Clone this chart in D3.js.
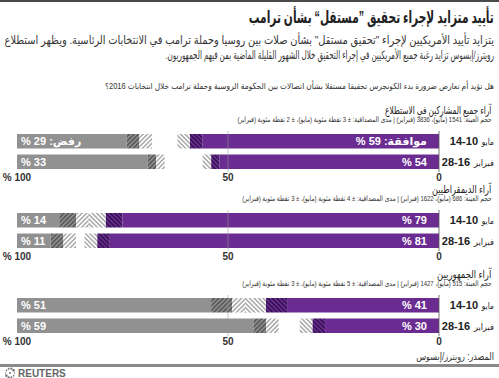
<!DOCTYPE html>
<html lang="ar">
<head>
<meta charset="UTF-8" />
<title>تأييد متزايد لإجراء تحقيق مستقل بشأن ترامب</title>
<script src="https://d3js.org/d3.v7.min.js"></script>
<style>
  body { margin: 0; background: #fff; }
  svg { display: block; font-family: "Liberation Sans", "DejaVu Sans", sans-serif; }
  .rtl { direction: rtl; }
</style>
</head>
<body>
<svg id="chart" width="499" height="378"></svg>
<script>
// ---- datos ----
const groups = ["آراء جميع المشاركين في الاستطلاع", "آراء الديمقراطيين", "آراء الجمهوريين"];
const samples = [
  "حجم العينة: 1541 (مايو)، 3836 (فبراير) | مدى المصداقية: ± 3 نقطة مئوية (مايو)، ± 2 نقطة مئوية (فبراير)",
  "حجم العينة: 686 (مايو)، 1622 (فبراير) | مدى المصداقية: ± 4 نقطة مئوية (مايو)، ± 3 نقطة مئوية (فبراير)",
  "حجم العينة: 515 (مايو)، 1427 (فبراير) | مدى المصداقية: ± 5 نقطة مئوية (مايو)، ± 3 نقطة مئوية (فبراير)"
];
const periodDays = ["14-10", "28-16"];
const periodMonths = ["مايو", "فبراير"];
// [مايو, فبراير] por grupo
const agree = [[59, 54], [79, 81], [41, 30]];
const oppose = [[29, 33], [14, 11], [51, 59]];
const margin = [[3, 2], [4, 3], [5, 3]];
const ticks = [100, 50, 0];

const svg = d3.select("#chart");
const W = 499;

const x = d3.scaleLinear().domain([0, 100]).range([439, 17]);

// texto árabe con borde derecho en xr; si hay "len" se comprime en horizontal hasta ese ancho
function rtext(parent, xr, y, size, str, len) {
  const g = parent.append("g");
  const t = g.append("text").attr("class", "rtl").attr("x", 0).attr("y", 0)
    .attr("font-size", size).attr("fill", "#333").text(str);
  const b = t.node().getBBox();
  const sx = len ? len / b.width : 1;
  g.attr("transform", `translate(${xr - sx * (b.x + b.width)},${y}) scale(${sx},1)`);
  return t;
}

// ---- patrones de rayado ----
const defs = svg.append("defs");
function hatch(id, bg, fg, angle) {
  const p = defs.append("pattern").attr("id", id)
    .attr("patternUnits", "userSpaceOnUse").attr("width", 3.2).attr("height", 3.2)
    .attr("patternTransform", `rotate(${angle})`);
  p.append("rect").attr("width", 3.2).attr("height", 3.2).attr("fill", bg);
  p.append("line").attr("x1", 0.8).attr("x2", 0.8).attr("y1", 0).attr("y2", 3.2)
    .attr("stroke", fg).attr("stroke-width", 1.3);
}
hatch("lightG", "#fff", "#9a9a9a", 45);
hatch("darkG", "#8d8d8d", "#4e4e4e", 45);
hatch("lightP", "#fff", "#9a9a9a", -45);
hatch("darkP", "#6a2c91", "#2a0b45", -45);

// ---- cabecera ----
svg.append("rect").attr("x", 0).attr("y", 0).attr("width", W).attr("height", 2).attr("fill", "#4a4a4a");

rtext(svg, 494, 23, 17, "تأييد متزايد لإجراء تحقيق ”مستقل“ بشأن ترامب", 206)
  .attr("font-weight", "bold").attr("fill", "#222");

rtext(svg, 494, 44, 11.5,
  "يتزايد تأييد الأمريكيين لإجراء \"تحقيق مستقل\" بشأن صلات بين روسيا وحملة ترامب في الانتخابات الرئاسية. ويظهر استطلاع", 490);
rtext(svg, 494, 59, 11.5,
  "رويترز/إبسوس تزايد رغبة جميع الأمريكيين في إجراء التحقيق خلال الشهور القليلة الماضية بمن فيهم الجمهوريون.", 329);

rtext(svg, 494, 89, 8.5,
  "هل تؤيد أم تعارض ضرورة بدء الكونجرس تحقيقا مستقلا بشأن اتصالات بين الحكومة الروسية وحملة ترامب خلال انتخابات 2016؟", 389);

// ---- secciones ----
const barTop = [134, 213, 298];
const bh = 14.5, gap = 20.5;
const headLen = [107, 60, 55];
const sampleLen = [255, 250, 250];

groups.forEach((g, gi) => {
  const t = barTop[gi];
  const sec = svg.append("g");

  rtext(sec, 492, t - 20.5, 11, g, headLen[gi]).attr("fill", "#222");
  rtext(sec, 492, t - 12, 7.5, samples[gi], sampleLen[gi]);

  periodDays.forEach((p, ri) => {
    const y = t + ri * gap;
    const a = agree[gi][ri], o = oppose[gi][ri], m = margin[gi][ri];

    // gris desde la izquierda
    sec.append("rect").attr("x", x(100)).attr("y", y).attr("height", bh)
      .attr("width", x(100 - (o - m)) - x(100)).attr("fill", "#919191");
    sec.append("rect").attr("x", x(100 - (o - m))).attr("y", y).attr("height", bh)
      .attr("width", x(100 - o) - x(100 - (o - m))).attr("fill", "url(#darkG)");
    sec.append("rect").attr("x", x(100 - o)).attr("y", y).attr("height", bh)
      .attr("width", x(100 - (o + m)) - x(100 - o)).attr("fill", "url(#lightG)");

    // morado desde la derecha
    sec.append("rect").attr("x", x(a - m)).attr("y", y).attr("height", bh)
      .attr("width", x(0) - x(a - m)).attr("fill", "#6a2c91");
    sec.append("rect").attr("x", x(a)).attr("y", y).attr("height", bh)
      .attr("width", x(a - m) - x(a)).attr("fill", "url(#darkP)");
    sec.append("rect").attr("x", x(a + m)).attr("y", y).attr("height", bh)
      .attr("width", x(a) - x(a + m)).attr("fill", "url(#lightP)");

    const first = ri === 0 && gi === 0;
    rtext(sec, x(0) - 12, y + bh / 2 + 4, 11, first ? `موافقة: ${a} %` : `${a} %`)
      .attr("font-weight", "bold").attr("fill", "#fff");
    // etiqueta gris: borde izquierdo en x(100) + 4
    const lg = sec.append("text").attr("class", "rtl").attr("x", 0).attr("y", 0)
      .attr("font-size", 11).attr("font-weight", "bold").attr("fill", "#fff")
      .text(first ? `رفض: ${o} %` : `${o} %`);
    const lb = lg.node().getBBox();
    lg.attr("transform", `translate(${x(100) + 4 - lb.x},${y + bh / 2 + 4})`);

    // etiqueta de periodo: mes a la derecha, días a su izquierda
    const mw = ri === 0 ? 13 : 21;
    rtext(sec, 494, y + bh / 2 + 4, 9, periodMonths[ri], mw).attr("fill", "#222");
    sec.append("text").attr("x", 494 - mw - 3).attr("y", y + bh / 2 + 4)
      .attr("text-anchor", "end").attr("font-size", 11).attr("font-weight", "bold").attr("fill", "#222")
      .text(p);
  });

  // líneas de 50 y 0
  sec.append("line").attr("x1", x(50)).attr("x2", x(50)).attr("y1", t - 3).attr("y2", t + gap + bh + 3)
    .attr("stroke", "#999").attr("stroke-opacity", 0.7).attr("stroke-width", 0.8);
  sec.append("line").attr("x1", x(0)).attr("x2", x(0)).attr("y1", t - 3).attr("y2", t + gap + bh + 3)
    .attr("stroke", "#555").attr("stroke-width", 0.8);

  sec.selectAll(".tick").data(ticks).join("text")
    .attr("class", "rtl").attr("x", d => x(d)).attr("y", t + 47)
    .attr("text-anchor", "middle").attr("font-size", 10).attr("font-weight", "bold").attr("fill", "#333")
    .text(d => d === 100 ? "100 %" : d);
});

// ---- pie ----
rtext(svg, 494, 360, 10, "المصدر: رويترز/إبسوس", 78);
svg.append("rect").attr("x", 0).attr("y", 364).attr("width", W).attr("height", 3).attr("fill", "#8a8a8a");

const logo = svg.append("g").attr("transform", "translate(10,373)");
d3.range(10).forEach(i => {
  const ang = i / 10 * 2 * Math.PI;
  logo.append("circle").attr("cx", 4.5 * Math.cos(ang)).attr("cy", 4.5 * Math.sin(ang))
    .attr("r", 0.7 + (i % 5) * 0.15).attr("fill", "#777");
});
logo.append("circle").attr("r", 1).attr("fill", "#777");
svg.append("text").attr("x", 18).attr("y", 377).attr("font-size", 10).attr("font-weight", "bold")
  .attr("fill", "#666").text("REUTERS");
</script>
</body>
</html>
